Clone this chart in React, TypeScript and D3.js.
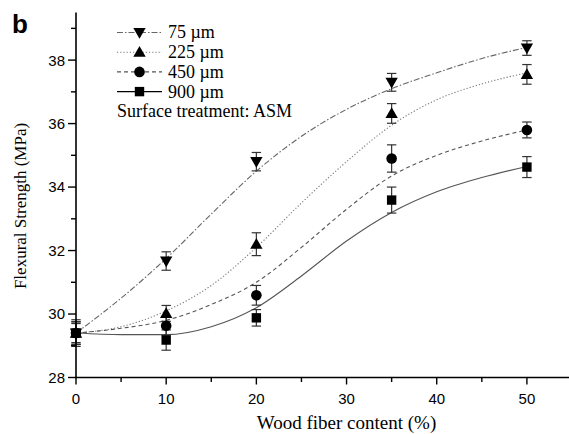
import React from "react";
import * as d3 from "d3";

const xValues = [0, 10, 20, 35, 50];
const seriesNames = ["75 µm", "225 µm", "450 µm", "900 µm"];
const s75 = [29.4, 31.67, 34.8, 37.3, 38.38];
const e75 = [0.35, 0.29, 0.29, 0.28, 0.23];
const s225 = [29.4, 30.02, 32.2, 36.32, 37.55];
const e225 = [0.42, 0.25, 0.36, 0.31, 0.31];
const s450 = [29.4, 29.63, 30.59, 34.9, 35.8];
const e450 = [0.3, 0.3, 0.31, 0.43, 0.25];
const s900 = [29.4, 29.18, 29.88, 33.59, 34.63];
const e900 = [0.36, 0.32, 0.26, 0.41, 0.33];

// fitted curves at x = 0,5,...,50
const fitX = [0, 5, 10, 15, 20, 25, 30, 35, 40, 45, 50];
const fit75 = [29.4, 30.5, 31.75, 33.15, 34.5, 35.6, 36.45, 37.1, 37.6, 38.05, 38.4];
const fit225 = [29.4, 29.6, 30.1, 30.9, 32.1, 33.5, 34.8, 35.95, 36.75, 37.25, 37.6];
const fit450 = [29.4, 29.55, 29.8, 30.3, 31.0, 32.1, 33.3, 34.35, 35.0, 35.45, 35.8];
const fit900 = [29.4, 29.35, 29.35, 29.6, 30.2, 31.2, 32.3, 33.2, 33.85, 34.3, 34.65];

const xTicks = [0, 10, 20, 30, 40, 50];
const yTicks = [28, 30, 32, 34, 36, 38];

const W = 569;
const H = 434;

const x = d3.scaleLinear().domain([0, 55]).range([76, 572]);
const y = d3.scaleLinear().domain([28, 39.5]).range([377.5, 12.5]);

const styles = [
  { dash: "6,2,1.5,2", marker: "down", stroke: "#666" },
  { dash: "1.2,2", marker: "up", stroke: "#777" },
  { dash: "4,3", marker: "circle", stroke: "#555" },
  { dash: "none", marker: "square", stroke: "#555" },
];

function Marker({ type, cx, cy }: { type: string; cx: number; cy: number }) {
  if (type === "circle") return <circle cx={cx} cy={cy} r={5.3} fill="#000" />;
  if (type === "square") return <rect x={cx - 4.7} y={cy - 4.7} width={9.4} height={9.4} fill="#000" />;
  const sym = d3.symbol().type(d3.symbolTriangle).size(66)();
  return (
    <path
      d={sym as string}
      transform={`translate(${cx},${cy + (type === "down" ? -1 : 1)}) rotate(${type === "down" ? 180 : 0})`}
      fill="#000"
    />
  );
}

export default function App() {
  const data = [s75, s225, s450, s900];
  const errs = [e75, e225, e450, e900];
  const fits = [fit75, fit225, fit450, fit900];
  const line = d3
    .line<number>()
    .x((_, i) => x(fitX[i]))
    .y((d) => y(d))
    .curve(d3.curveMonotoneX);

  const minorX = d3.range(5, 56, 10);
  const minorY = d3.range(29, 40, 2);
  const axisColor = "#000";

  return (
    <svg
      width={W}
      height={H}
      style={{ position: "absolute", left: 0, top: 0, background: "#fff" }}
    >
      <rect width={W} height={H} fill="#fff" />
      {/* panel letter */}
      <text x={12} y={33} fontFamily="Liberation Sans, Arial" fontWeight="bold" fontSize={26}>
        b
      </text>

      {/* fitted curves */}
      {fits.map((f, k) => (
        <path
          key={"fit" + k}
          d={line(f) as string}
          fill="none"
          stroke={styles[k].stroke}
          strokeWidth={1.1}
          strokeDasharray={styles[k].dash}
        />
      ))}

      {/* error bars */}
      {data.map((s, k) =>
        s.map((v, i) => {
          const cx = x(xValues[i]);
          const top = y(v + errs[k][i]);
          const bot = y(v - errs[k][i]);
          return (
            <g key={`e${k}-${i}`} stroke="#333" strokeWidth={1.2}>
              <line x1={cx} x2={cx} y1={top} y2={bot} />
              <line x1={cx - 4.7} x2={cx + 4.7} y1={top} y2={top} />
              <line x1={cx - 4.7} x2={cx + 4.7} y1={bot} y2={bot} />
            </g>
          );
        })
      )}

      {/* markers */}
      {data.map((s, k) =>
        s.map((v, i) => (
          <Marker key={`m${k}-${i}`} type={styles[k].marker} cx={x(xValues[i])} cy={y(v)} />
        ))
      )}

      {/* axes */}
      <line x1={x(0)} x2={x(0)} y1={y(39.5)} y2={y(28) + 0.8} stroke={axisColor} strokeWidth={1.6} />
      <line x1={x(0) - 0.8} x2={W} y1={y(28)} y2={y(28)} stroke={axisColor} strokeWidth={1.6} />
      {yTicks.map((t) => (
        <g key={"yt" + t}>
          <line x1={x(0) - 8} x2={x(0)} y1={y(t)} y2={y(t)} stroke={axisColor} strokeWidth={1.4} />
          <text
            x={x(0) - 11}
            y={y(t)}
            dy="0.36em"
            textAnchor="end"
            fontFamily="Liberation Sans, Arial"
            fontSize={15}
          >
            {t}
          </text>
        </g>
      ))}
      {minorY.map((t) => (
        <line key={"ym" + t} x1={x(0) - 5} x2={x(0)} y1={y(t)} y2={y(t)} stroke={axisColor} strokeWidth={1.4} />
      ))}
      {xTicks.map((t) => (
        <g key={"xt" + t}>
          <line x1={x(t)} x2={x(t)} y1={y(28)} y2={y(28) + 7} stroke={axisColor} strokeWidth={1.4} />
          <text
            x={x(t)}
            y={404}
            textAnchor="middle"
            fontFamily="Liberation Sans, Arial"
            fontSize={15}
          >
            {t}
          </text>
        </g>
      ))}
      {minorX.map((t) => (
        <line key={"xm" + t} x1={x(t)} x2={x(t)} y1={y(28)} y2={y(28) + 4.5} stroke={axisColor} strokeWidth={1.4} />
      ))}

      {/* axis titles */}
      <text
        x={x(30)}
        y={429}
        textAnchor="middle"
        fontFamily="Liberation Serif, Times New Roman"
        fontSize={19}
      >
        Wood fiber content (%)
      </text>
      <text
        transform={`translate(26,${206}) rotate(-90)`}
        textAnchor="middle"
        fontFamily="Liberation Serif, Times New Roman"
        fontSize={17}
      >
        Flexural Strength (MPa)
      </text>

      {/* legend */}
      {seriesNames.map((name, k) => {
        const ly = 32.5 + k * 19.7;
        return (
          <g key={"lg" + k}>
            <line
              x1={117}
              x2={162}
              y1={ly}
              y2={ly}
              stroke={k === 3 ? "#000" : styles[k].stroke}
              strokeWidth={1.1}
              strokeDasharray={styles[k].dash}
            />
            <Marker type={styles[k].marker} cx={139.5} cy={ly} />
            <text
              x={168}
              y={ly}
              dy="0.33em"
              fontFamily="Liberation Serif, Times New Roman"
              fontSize={18}
            >
              {name}
            </text>
          </g>
        );
      })}
      <text
        x={117}
        y={111}
        dy="0.33em"
        fontFamily="Liberation Serif, Times New Roman"
        fontSize={18}
      >
        Surface treatment: ASM
      </text>
    </svg>
  );
}
